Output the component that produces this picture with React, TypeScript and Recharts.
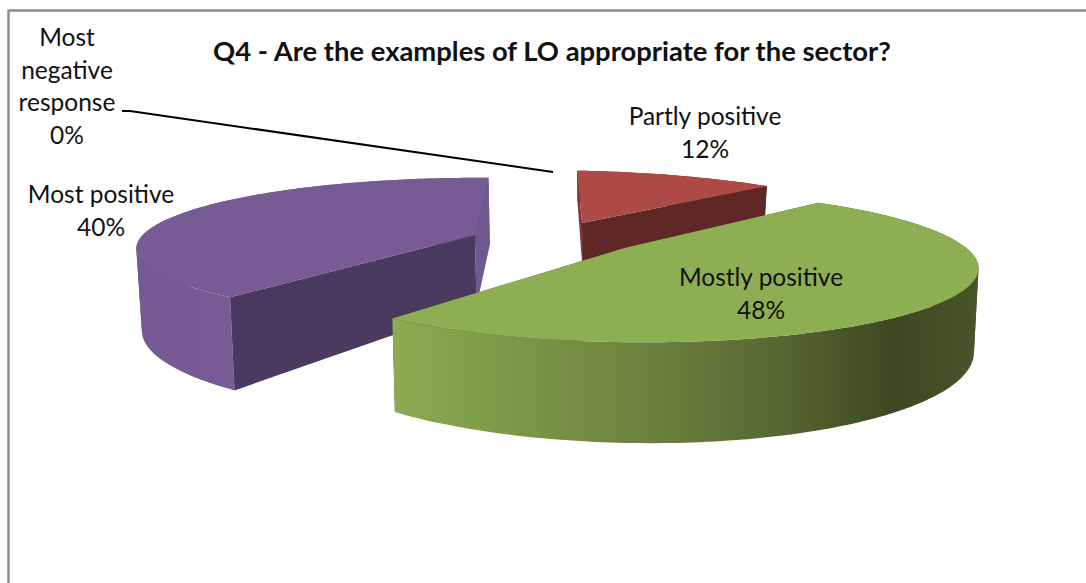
import React from 'react';
import { PieChart, Pie } from 'recharts';

const categories = ['Most positive', 'Most negative response', 'Partly positive', 'Mostly positive'];
const shares = [40, 0, 12, 48];

const tableData = categories.map((name, i) => ({ name, value: shares[i] }));

const FONT = 'Lato, "Noto Sans", sans-serif';
const chartTitle = 'Q4 - Are the examples of LO appropriate for the sector?';

type SliceView = {
  ax: number; ay: number; // where the pie centre lands
  rx: number; ry: number; // size of the disc
  k: number; // perspective strength
  shearX: number; shearY: number;
  drop: number; // thickness at the rim
  hubDrop: number; // thickness at the centre
  wallOverCuts?: boolean;
  top: string; cutStart: string; cutEnd: string;
  wall: Array<[number, string]>; // horizontal gradient, [x px, colour]
};

const sliceViews: Record<string, SliceView> = {
  'Most positive': {
    ax: 475, ay: 235, rx: 335.5, ry: 68, k: 0.19, shearX: -18, shearY: -4, drop: 80, hubDrop: 71,
    top: '#765b94', cutStart: '#4b3a60', cutEnd: '#6f5790',
    wall: [[130, '#745992'], [190, '#755a93'], [240, '#785c96']],
  },
  'Partly positive': {
    ax: 582, ay: 223, rx: 316, ry: 65, k: 0.237, shearX: -38, shearY: 0, drop: 38, hubDrop: 42,
    top: '#ad4a46', cutStart: '#7a3733', cutEnd: '#5f2726',
    wall: [[570, '#5f2726'], [780, '#5f2726']],
  },
  'Mostly positive': {
    ax: 624.6, ay: 248, rx: 331.5, ry: 71.7, k: 0.237, shearX: -40, shearY: -7, drop: 77, hubDrop: 77,
    wallOverCuts: true,
    top: '#8eae53', cutStart: '#4b5a2c', cutEnd: '#4b5a2c',
    wall: [[394, '#8cab52'], [500, '#7d9a48'], [633, '#6f843f'], [760, '#5a6c33'], [894, '#3d4820'], [980, '#475629']],
  },
};

// label placement: centre x and the baseline of the first line
const labelSpots: Record<string, { x: number; y: number; lines: string[] }> = {
  'Most positive': { x: 101, y: 203, lines: ['Most positive'] },
  'Most negative response': { x: 67, y: 46, lines: ['Most', 'negative', 'response'] },
  'Partly positive': { x: 705, y: 125, lines: ['Partly positive'] },
  'Mostly positive': { x: 761, y: 286, lines: ['Mostly positive'] },
};
const LINE_GAP = 32.5;
const leaderPoints = '122,111 130,111 553,172';

const project = (v: SliceView, deg: number, r = 1) => {
  const rad = (deg * Math.PI) / 180;
  const u = r * Math.cos(rad);
  const w = r * Math.sin(rad);
  const d = 1 + v.k * w;
  const X = u / d;
  const Y = w / d;
  return {
    x: v.ax + v.rx * X + v.shearX * Y,
    y: v.ay - v.ry * Y + v.shearY * X,
    depth: (r === 0 ? v.hubDrop : v.drop) / d,
  };
};

type Pt = { x: number; y: number; depth: number };

const lower = (p: Pt) => ({
  x: p.x + (600 - p.x) * 0.012,
  y: p.y + p.depth,
});

const toPath = (pts: Array<{ x: number; y: number }>) =>
  `M${pts.map((p) => `${p.x.toFixed(1)},${p.y.toFixed(1)}`).join('L')}Z`;

// the rim folds back at its left/right extremes, so the wall is cut into x-monotone runs
const splitRuns = (rim: Pt[]) => {
  const runs: Pt[][] = [];
  let run: Pt[] = [rim[0]];
  let dir = 0;
  for (let i = 1; i < rim.length; i++) {
    const next = Math.sign(rim[i].x - rim[i - 1].x);
    if (dir !== 0 && next !== 0 && next !== dir) {
      runs.push(run);
      run = [rim[i - 1]];
    }
    if (next !== 0) dir = next;
    run.push(rim[i]);
  }
  runs.push(run);
  return runs;
};

// One exploded 3D wedge; angles arrive from the Pie layout.
const Wedge3D = (props: any) => {
  const { name, startAngle, endAngle } = props;
  const view = sliceViews[name];
  if (!view || startAngle === endAngle) return null;

  const steps = Math.ceil(Math.abs(startAngle - endAngle));
  const rim = Array.from({ length: steps + 1 }, (_, i) =>
    project(view, startAngle + ((endAngle - startAngle) * i) / steps),
  );
  const hub = project(view, 0, 0);
  const first = rim[0];
  const last = rim[rim.length - 1];
  const gradId = `wall-${name.replace(/\s/g, '-')}`;
  const x0 = view.wall[0][0];
  const x1 = view.wall[view.wall.length - 1][0];

  const wall = splitRuns(rim).map((run, i) => (
    <path key={i} d={toPath([...run, ...run.map(lower).reverse()])} fill={`url(#${gradId})`} />
  ));
  const cuts = [
    <path key="end" d={toPath([last, hub, lower(hub) as Pt, lower(last) as Pt])} fill={view.cutEnd} />,
    <path key="start" d={toPath([first, hub, lower(hub) as Pt, lower(first) as Pt])} fill={view.cutStart} />,
  ];

  return (
    <g>
      <defs>
        <linearGradient id={gradId} gradientUnits="userSpaceOnUse" x1={x0} x2={x1} y1={0} y2={0}>
          {view.wall.map(([x, c]) => (
            <stop key={x} offset={(x - x0) / (x1 - x0)} stopColor={c} />
          ))}
        </linearGradient>
      </defs>
      {view.wallOverCuts ? cuts : wall}
      {view.wallOverCuts ? wall : cuts}
      <path d={toPath([hub, ...rim])} fill={view.top} />
    </g>
  );
};

const renderLabel = (props: any) => {
  const { name, value } = props;
  const spot = labelSpots[name];
  if (!spot) return null;
  return (
    <g>
      {value === 0 && <polyline points={leaderPoints} fill="none" stroke="#000000" strokeWidth={2} />}
      <text x={spot.x} y={spot.y} textAnchor="middle" fontFamily={FONT} fontSize={24.5} fill="#111111">
        {[...spot.lines, `${value}%`].map((line, i) => (
          <tspan key={line} x={spot.x} y={spot.y + i * LINE_GAP}>{line}</tspan>
        ))}
      </text>
    </g>
  );
};

const frameStyle: React.CSSProperties = {
  position: 'fixed',
  left: 0,
  top: 0,
  width: 1086,
  height: 583,
  overflow: 'hidden',
  background: '#ffffff',
};

const App = (): JSX.Element => (
  <div style={frameStyle}>
    <PieChart width={1086} height={583} margin={{ top: 0, right: 0, bottom: 0, left: 0 }}>
      <line x1={8.5} y1={10.5} x2={1086} y2={10.5} stroke="#8c8c8c" strokeWidth={2.5} />
      <line x1={8.5} y1={10} x2={8.5} y2={583} stroke="#8c8c8c" strokeWidth={2.5} />
      <text x={552} y={61} textAnchor="middle" fontFamily={FONT} fontSize={27.4} fontWeight={700} fill="#111111">
        {chartTitle}
      </text>
      <Pie
        data={tableData}
        dataKey="value"
        nameKey="name"
        cx={560}
        cy={280}
        outerRadius={300}
        startAngle={228.2}
        endAngle={-131.8}
        stroke="none"
        isAnimationActive={false}
        shape={Wedge3D}
        label={renderLabel}
        labelLine={false}
      />
    </PieChart>
  </div>
);

export default App;
